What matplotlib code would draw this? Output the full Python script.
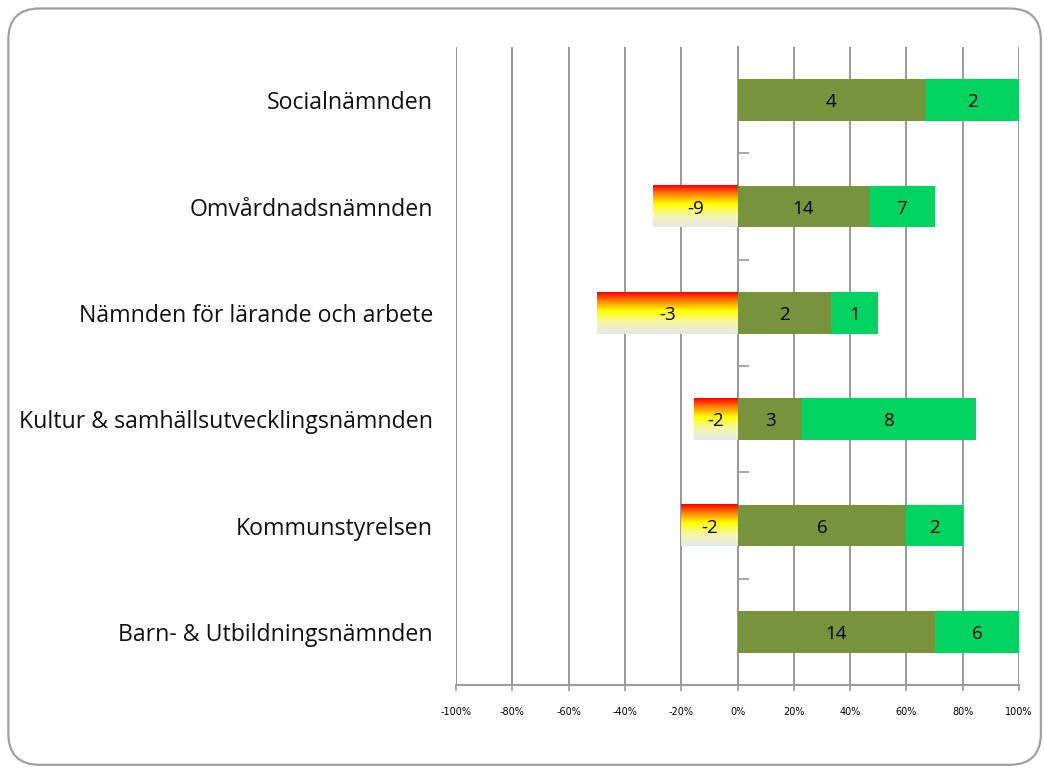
import numpy as np
import matplotlib.pyplot as plt
import matplotlib.transforms as mtransforms
from matplotlib.patches import FancyBboxPatch
from matplotlib.colors import LinearSegmentedColormap

categories = ["Socialnämnden", "Omvårdnadsnämnden", "Nämnden för lärande och arbete",
              "Kultur & samhällsutvecklingsnämnden", "Kommunstyrelsen",
              "Barn- & Utbildningsnämnden"]
negative = [0, -9, -3, -2, -2, 0]
neutral = [4, 14, 2, 3, 6, 14]
positive = [2, 7, 1, 8, 2, 6]
xticks = [-100, -80, -60, -40, -20, 0, 20, 40, 60, 80, 100]

plt.rcParams['font.family'] = ['Open Sans', 'DejaVu Sans']

neg = np.array(negative, float)
mid = np.array(neutral, float)
pos = np.array(positive, float)
total = np.abs(neg) + mid + pos
neg_pct = neg / total * 100
mid_pct = mid / total * 100
pos_pct = pos / total * 100

fig = plt.figure(figsize=(10.44, 7.71), dpi=100)
fig.patches.append(FancyBboxPatch((0.008, 0.008), 0.989, 0.981,
                                  boxstyle="round,pad=0,rounding_size=0.03",
                                  transform=fig.transFigure, facecolor='none',
                                  edgecolor='#a0a0a0', linewidth=1.6,
                                  mutation_aspect=1044 / 771))
ax = fig.add_axes([0.4368, 0.1115, 0.5393, 0.8275])
ax.set_facecolor('none')

y = np.arange(len(categories))
h = 0.39
olive = '#77933c'
green = '#00d35f'

ax.barh(y, mid_pct, height=h, color=olive, zorder=3)
ax.barh(y, pos_pct, left=mid_pct, height=h, color=green, zorder=3)

# gradient fill for the negative bars
grad = LinearSegmentedColormap.from_list('neg', [(0.0, '#ff0000'), (0.2, '#ff8000'),
                                                  (0.45, '#ffff00'), (0.72, '#f6f6a8'),
                                                  (1.0, '#e4e8ec')])
img = np.linspace(0, 1, 100).reshape(-1, 1)
for yi, v in zip(y, neg_pct):
    if v == 0:
        continue
    ax.imshow(img, cmap=grad, aspect='auto', extent=[v, 0, yi + h / 2, yi - h / 2],
              zorder=3, interpolation='bilinear')

for yi, v, n, m, mc, p, pc in zip(y, neg_pct, negative, mid_pct, neutral, pos_pct, positive):
    if n != 0:
        ax.text(v / 2, yi, str(n), ha='center', va='center_baseline', fontsize=13.5, zorder=4)
    ax.text(m / 2, yi, str(mc), ha='center', va='center_baseline', fontsize=13.5, zorder=4)
    ax.text(m + p / 2, yi, str(pc), ha='center', va='center_baseline', fontsize=13.5, zorder=4)

ax.set_xlim(-100, 100)
ax.set_ylim(len(categories) - 0.5, -0.5)

for xv in xticks:
    ax.axvline(xv, color='#999999', linewidth=1.4, zorder=1)

ax.set_xticks(xticks)
ax.set_xticklabels([f"{t}%" for t in xticks], fontsize=7, family='DejaVu Sans')
ax.tick_params(axis='x', length=4, width=1.2, color='#999999', pad=12)

# category axis at zero with ticks between categories
ax.spines['left'].set_position(('data', 0))
ax.spines['left'].set_color('#999999')
ax.spines['left'].set_linewidth(1.4)
ax.set_yticks(y[:-1] + 0.5)
ax.set_yticklabels([])
ax.tick_params(axis='y', direction='in', length=8, width=1.2, color='#999999')
ax.spines['bottom'].set_color('#999999')
ax.spines['bottom'].set_linewidth(1.4)
ax.spines['top'].set_visible(False)
ax.spines['right'].set_visible(False)

trans = mtransforms.blended_transform_factory(ax.transAxes, ax.transData)
for yi, name in zip(y, categories):
    ax.text(-0.041, yi, name, transform=trans, ha='right', va='center_baseline',
            fontsize=16.7, color='#111111')

fig.savefig('out.png', dpi=100)
